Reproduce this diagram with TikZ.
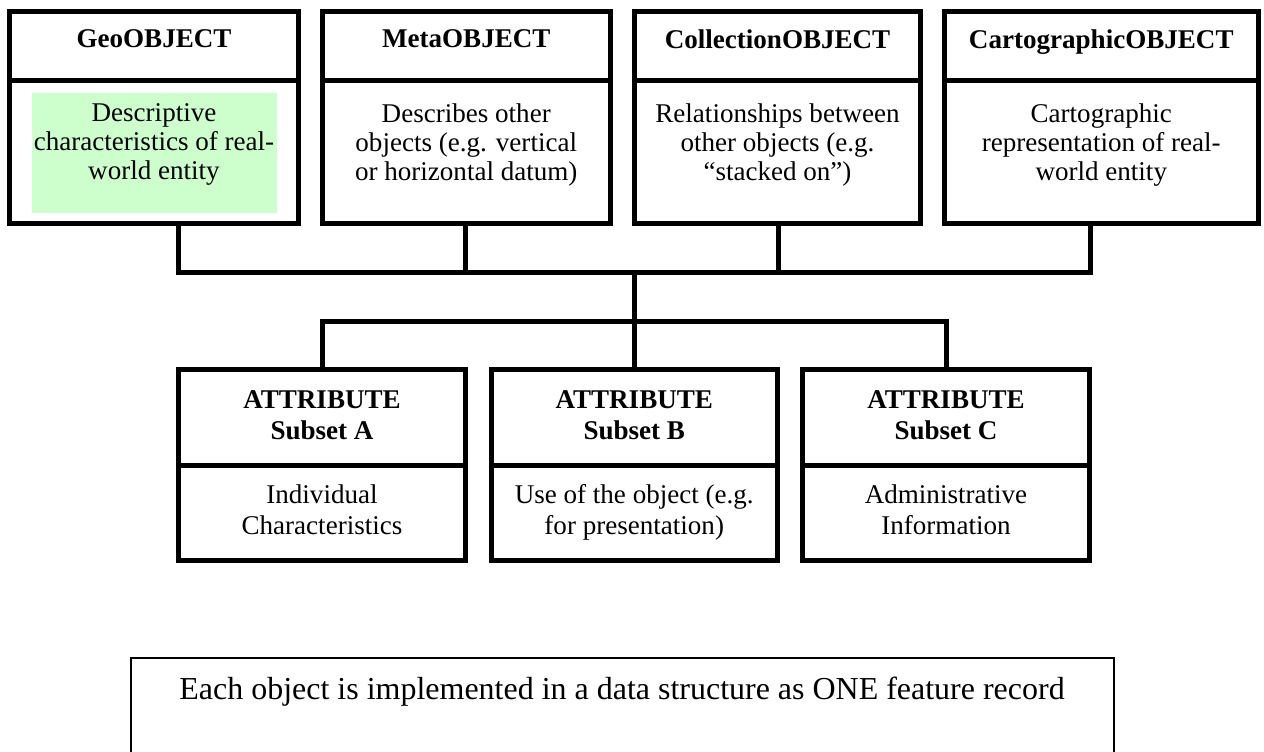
\documentclass[tikz,border=0pt]{standalone}
\usepackage{fontspec}
\setmainfont{Liberation Serif}
\usetikzlibrary{calc}
\tikzset{>=latex}
\definecolor{cellgreen}{HTML}{CCFFCC}
\newcommand{\pxl}{0.02cm}
\tikzset{
    cell/.style = {draw, line width=5*\pxl, inner sep=0pt, outer sep=0pt, minimum width=#1*\pxl},
    wire/.style = {line width=5*\pxl},
    txt/.style = {inner sep=0pt, align=center, anchor=north, font=\fontsize{15.4}{16.6}\selectfont},
}

\begin{document}
\begin{tikzpicture}[x=\pxl, y=-\pxl]

    \useasboundingbox (0,0) rectangle (1264,751);
    \clip (0,0) rectangle (1264,751);

    % objects
    \node[cell=289, minimum height=69.5*\pxl] (geohead) at (154,45.75) {};
    \node[cell=289, minimum height=143*\pxl] (geobody) at (154,152) {};
    \node[fill=cellgreen, minimum width=245*\pxl, minimum height=119.5*\pxl, inner sep=0pt] (geofill) at (154.5,153) {};
    \node[txt, font=\fontsize{15.4}{16.6}\selectfont\bfseries] (geotitle) at (154,29) {GeoOBJECT};
    \node[txt] (geodesc) at (154,103) {Descriptive\\characteristics of real-\\world entity};

    \node[cell=287.5, minimum height=69.5*\pxl] (metahead) at (466.25,45.75) {};
    \node[cell=287.5, minimum height=143*\pxl] (metabody) at (466.25,152) {};
    \node[txt, font=\fontsize{15.4}{16.6}\selectfont\bfseries] (metatitle) at (466.25,29) {MetaOBJECT};
    \node[txt] (metadesc) at (466.25,103) {Describes other\\objects (e.g. vertical\\or horizontal datum)};

    \node[cell=286, minimum height=69.5*\pxl] (collhead) at (777.5,45.75) {};
    \node[cell=286, minimum height=143*\pxl] (collbody) at (777.5,152) {};
    \node[txt, font=\fontsize{15.4}{16.6}\selectfont\bfseries] (colltitle) at (777.5,29) {CollectionOBJECT};
    \node[txt] (colldesc) at (777.5,103) {Relationships between\\other objects (e.g.\\“stacked on”)};

    \node[cell=314.5, minimum height=69.5*\pxl] (cartohead) at (1101.25,45.75) {};
    \node[cell=314.5, minimum height=143*\pxl] (cartobody) at (1101.25,152) {};
    \node[txt, font=\fontsize{15.4}{16.6}\selectfont\bfseries] (cartotitle) at (1101.25,29) {CartographicOBJECT};
    \node[txt] (cartodesc) at (1101.25,103) {Cartographic\\representation of real-\\world entity};

    % attribute subsets
    \node[cell=287, minimum height=95.5*\pxl] (attrAhead) at (322,417.25) {};
    \node[cell=287, minimum height=95.5*\pxl] (attrAbody) at (322,512.75) {};
    \node[txt, font=\fontsize{15.4}{17.6}\selectfont\bfseries] (attrAtitle) at (322,390) {ATTRIBUTE\\Subset A};
    \node[txt, font=\fontsize{15.4}{17.6}\selectfont] (attrAdesc) at (322,484) {Individual\\Characteristics};

    \node[cell=286.5, minimum height=95.5*\pxl] (attrBhead) at (634.25,417.25) {};
    \node[cell=286.5, minimum height=95.5*\pxl] (attrBbody) at (634.25,512.75) {};
    \node[txt, font=\fontsize{15.4}{17.6}\selectfont\bfseries] (attrBtitle) at (634.25,390) {ATTRIBUTE\\Subset B};
    \node[txt, font=\fontsize{15.4}{17.6}\selectfont] (attrBdesc) at (634.25,484) {Use of the object (e.g.\\for presentation)};

    \node[cell=287, minimum height=95.5*\pxl] (attrChead) at (946,417.25) {};
    \node[cell=287, minimum height=95.5*\pxl] (attrCbody) at (946,512.75) {};
    \node[txt, font=\fontsize{15.4}{17.6}\selectfont\bfseries] (attrCtitle) at (946,390) {ATTRIBUTE\\Subset C};
    \node[txt, font=\fontsize{15.4}{17.6}\selectfont] (attrCdesc) at (946,484) {Administrative\\Information};

    % connectors
    \coordinate (geoj) at (178,272.5);
    \coordinate (metaj) at (465,272.5);
    \coordinate (collj) at (778,272.5);
    \coordinate (cartoj) at (1090,272.5);
    \coordinate (trunk) at (634.25,272.5);
    \coordinate (subbus) at (634.25,321.5);

    \draw[wire] (geobody.south -| geoj) -- (geoj) -- (cartoj) -- (cartobody.south -| cartoj);
    \draw[wire] (metabody.south -| metaj) -- (metaj);
    \draw[wire] (collbody.south -| collj) -- (collj);
    \draw[wire] (trunk) -- (attrBhead.north);
    \draw[wire] (attrAhead.north) -- (attrAhead.north |- subbus) -- (attrChead.north |- subbus) -- (attrChead.north);

    % record box
    \node[draw, line width=2*\pxl, minimum width=983.5*\pxl, minimum height=130*\pxl, inner sep=0pt] (record) at (622.25,723) {};
    \node[txt, font=\fontsize{18.2}{22}\selectfont] (recordtxt) at (622,677) {Each object is implemented in a data structure as ONE feature record};

\end{tikzpicture}
\end{document}
